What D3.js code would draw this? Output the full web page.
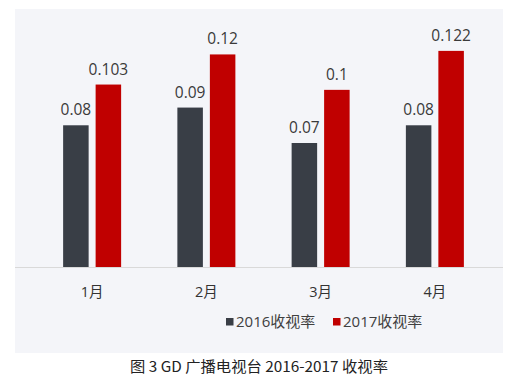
<!DOCTYPE html>
<html><head><meta charset="utf-8">
<script src="https://cdn.jsdelivr.net/npm/d3@7"></script>
<style>body{margin:0;background:#fff;}svg{display:block;}</style>
</head><body>
<script>
const months = ["1月","2月","3月","4月"];
const seriesNames = ["2016收视率","2017收视率"];
const values2016 = [0.08, 0.09, 0.07, 0.08];
const values2017 = [0.103, 0.12, 0.1, 0.122];
const labels2016 = ["0.08","0.09","0.07","0.08"];
const labels2017 = ["0.103","0.12","0.1","0.122"];
const colors = ["#393e46","#c00000"];
const caption = "图 3 GD 广播电视台 2016-2017 收视率";

const W = 531, H = 379;
const svg = d3.select("body").append("svg").attr("width", W).attr("height", H);

svg.append("rect").attr("x",15).attr("y",9).attr("width",488).attr("height",344).attr("fill","#f4f5f9");

const x = d3.scaleBand().domain(months).range([35, 492]).paddingInner(0).paddingOuter(0);
const y = d3.scaleLinear().domain([0, 0.14]).range([267, 19]);
const x1 = d3.scaleBand().domain([0,1]).range([-29, 29]).paddingInner(0.215);

const font = "'Open Sans','Noto Sans CJK SC',sans-serif";

// axis baseline
const ax = svg.append("g").attr("transform","translate(0,267)")
  .call(d3.axisBottom(x).tickSize(0).tickPadding(0));
ax.select(".domain").attr("stroke","#d9d9d9").attr("d","M15,0.5H503");
ax.selectAll("text").remove();

const data = months.map((m,i)=>({m, v:[values2016[i], values2017[i]], l:[labels2016[i], labels2017[i]]}));

const g = svg.append("g");
data.forEach(d=>{
  const cx = x(d.m) + x.bandwidth()/2;
  [0,1].forEach(s=>{
    g.append("rect")
      .attr("x", cx + x1(s))
      .attr("y", y(d.v[s]))
      .attr("width", x1.bandwidth())
      .attr("height", y(0) - y(d.v[s]))
      .attr("fill", colors[s]);
    g.append("text")
      .attr("x", cx + x1(s) + x1.bandwidth()/2)
      .attr("y", y(d.v[s]) - 10)
      .attr("text-anchor","middle")
      .attr("font-family", font)
      .attr("font-size", 15.5)
      .attr("fill","#3a3a3a")
      .text(d.l[s]);
  });
  svg.append("text")
    .attr("x", cx)
    .attr("y", 297)
    .attr("text-anchor","middle")
    .attr("font-family", font)
    .attr("font-size", 14.5)
    .attr("fill","#333")
    .text(d.m);
});

// legend
const legX = [226, 333];
seriesNames.forEach((n,i)=>{
  svg.append("rect").attr("x",legX[i]).attr("y",318).attr("width",7.5).attr("height",7.5).attr("fill",colors[i]);
  svg.append("text").attr("x",legX[i]+10).attr("y",326.5)
    .attr("font-family",font).attr("font-size",15).attr("fill","#404040").text(n);
});

svg.append("text").attr("x",130).attr("y",372)
  .attr("font-family","'Noto Sans CJK SC',sans-serif").attr("font-size",14.5)
  .attr("textLength",258).attr("lengthAdjust","spacingAndGlyphs")
  .attr("fill","#222").text(caption);
</script>
</body></html>
